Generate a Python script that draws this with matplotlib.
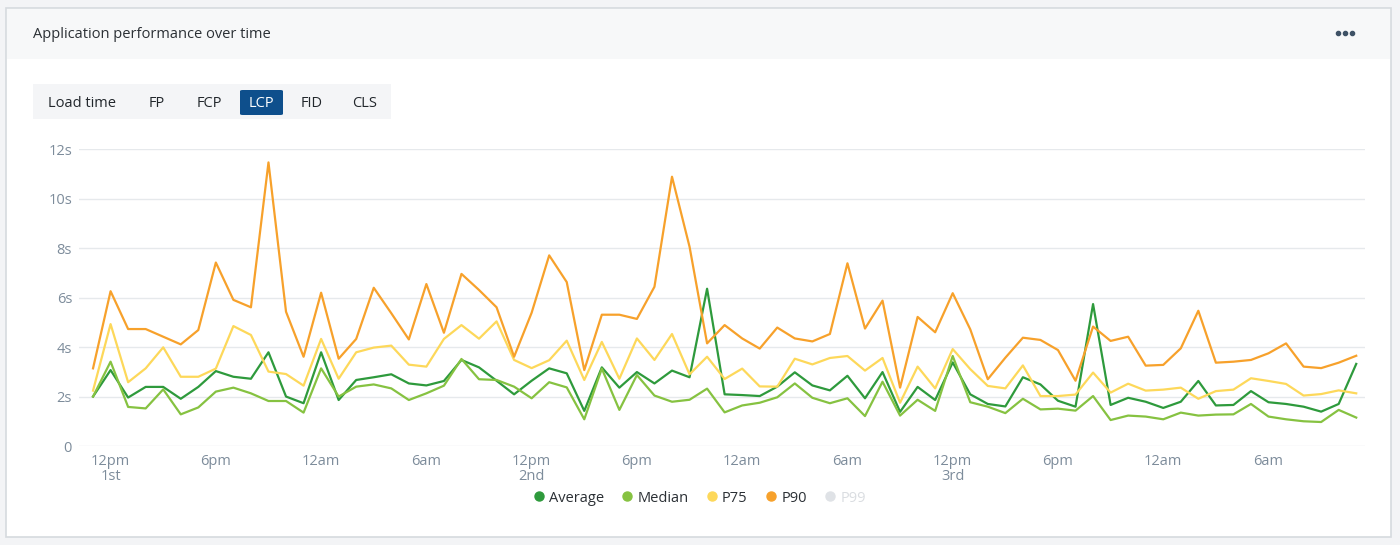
import matplotlib
matplotlib.use("Agg")
import matplotlib.pyplot as plt
from matplotlib.patches import Rectangle, FancyBboxPatch
from matplotlib.lines import Line2D

plt.rcParams['font.family'] = ['Open Sans', 'DejaVu Sans']

# hourly samples, 11am on the 1st through 11am on the 4th (hours since 12am 1st)
hours = list(range(11, 84))

average = [2.00, 3.07, 1.96, 2.39, 2.39, 1.91, 2.39, 3.03, 2.80, 2.72, 3.79, 2.00, 1.73, 3.79,
           1.86, 2.67, 2.78, 2.90, 2.53, 2.45, 2.63, 3.48, 3.18, 2.64, 2.09, 2.64, 3.14, 2.94,
           1.42, 3.18, 2.36, 2.99, 2.53, 3.05, 2.78, 6.36, 2.09, 2.06, 2.02, 2.40, 2.98, 2.45,
           2.25, 2.84, 1.93, 2.99, 1.38, 2.39, 1.86, 3.38, 2.09, 1.70, 1.60, 2.78, 2.49, 1.83,
           1.59, 5.74, 1.66, 1.95, 1.79, 1.54, 1.79, 2.63, 1.64, 1.66, 2.22, 1.77, 1.70, 1.59,
           1.39, 1.70, 3.32]
median = [2.00, 3.41, 1.58, 1.52, 2.29, 1.28, 1.56, 2.20, 2.36, 2.13, 1.82, 1.82, 1.35, 3.14,
          2.00, 2.40, 2.49, 2.33, 1.86, 2.13, 2.44, 3.52, 2.70, 2.67, 2.40, 1.93, 2.58, 2.37,
          1.08, 3.13, 1.46, 2.87, 2.04, 1.79, 1.87, 2.32, 1.36, 1.64, 1.75, 1.97, 2.53, 1.95,
          1.73, 1.93, 1.21, 2.60, 1.23, 1.87, 1.42, 3.64, 1.77, 1.59, 1.33, 1.91, 1.48, 1.51,
          1.43, 2.02, 1.05, 1.23, 1.19, 1.08, 1.35, 1.23, 1.27, 1.28, 1.70, 1.19, 1.08, 1.00,
          0.97, 1.46, 1.15]
p75 = [2.24, 4.93, 2.58, 3.14, 3.99, 2.80, 2.80, 3.13, 4.85, 4.49, 3.01, 2.91, 2.44, 4.33,
       2.72, 3.79, 3.98, 4.06, 3.29, 3.21, 4.33, 4.89, 4.34, 5.04, 3.48, 3.15, 3.47, 4.26,
       2.67, 4.21, 2.72, 4.35, 3.48, 4.53, 2.90, 3.61, 2.71, 3.13, 2.41, 2.40, 3.53, 3.30,
       3.56, 3.64, 3.05, 3.56, 1.75, 3.21, 2.33, 3.92, 3.11, 2.43, 2.33, 3.26, 2.02, 2.02,
       2.08, 2.97, 2.16, 2.52, 2.24, 2.28, 2.36, 1.91, 2.22, 2.28, 2.74, 2.63, 2.51, 2.04,
       2.10, 2.25, 2.13]
p90 = [3.14, 6.26, 4.73, 4.73, 4.42, 4.11, 4.69, 7.42, 5.91, 5.61, 11.47, 5.43, 3.61, 6.20,
       3.53, 4.33, 6.40, 5.37, 4.31, 6.55, 4.58, 6.96, 6.31, 5.61, 3.61, 5.39, 7.71, 6.63,
       3.07, 5.31, 5.31, 5.14, 6.44, 10.89, 8.06, 4.15, 4.89, 4.35, 3.94, 4.79, 4.35, 4.23,
       4.53, 7.39, 4.75, 5.88, 2.36, 5.22, 4.60, 6.18, 4.72, 2.70, 3.57, 4.38, 4.29, 3.88,
       2.64, 4.83, 4.25, 4.42, 3.25, 3.28, 3.95, 5.47, 3.37, 3.41, 3.48, 3.75, 4.15, 3.21,
       3.15, 3.37, 3.65]

series_names = ['Average', 'Median', 'P75', 'P90', 'P99']
series_colors = ['#2e9a3c', '#86c241', '#fdd85a', '#f7a12b', '#dfe2e6']

tick_hours = [12, 18, 24, 30, 36, 42, 48, 54, 60, 66, 72, 78]
tick_labels = ['12pm\n1st', '6pm', '12am', '6am', '12pm\n2nd', '6pm', '12am', '6am',
               '12pm\n3rd', '6pm', '12am', '6am']
y_ticks = [0, 2, 4, 6, 8, 10, 12]
y_labels = ['0', '2s', '4s', '6s', '8s', '10s', '12s']

tabs = ['Load time', 'FP', 'FCP', 'LCP', 'FID', 'CLS']
tab_centers = [82, 157, 209, 261, 312, 365]
active_tab = 'LCP'

W, H = 1400, 545
fig = plt.figure(figsize=(W / 100, H / 100), dpi=100)
fig.patch.set_facecolor('#f3f4f6')


def fx(x):
    return x / W


def fy(y):
    return 1 - y / H


# card + header band
fig.patches.append(Rectangle((fx(6), fy(537)), fx(1391) - fx(6), fy(8) - fy(537),
                             transform=fig.transFigure, facecolor='white',
                             edgecolor='#d6dade', linewidth=1.2, zorder=-3))
fig.patches.append(Rectangle((fx(7), fy(59)), fx(1390) - fx(7), fy(9) - fy(59),
                             transform=fig.transFigure, facecolor='#f7f8f9',
                             edgecolor='none', zorder=-2))
fig.text(fx(33), fy(34), 'Application performance over time', fontsize=10.5,
         color='#2b3035', va='center', ha='left')
fig.add_artist(Line2D([fx(1338), fx(1345), fx(1352)], [fy(33)] * 3, transform=fig.transFigure,
                      marker='o', markersize=3.0, linestyle='none',
                      markerfacecolor='#3e5266', markeredgecolor='#3e5266'))

# metric tabs
fig.patches.append(Rectangle((fx(33), fy(119)), fx(391) - fx(33), fy(84) - fy(119),
                             transform=fig.transFigure, facecolor='#f4f5f7',
                             edgecolor='none', zorder=-2))
for name, cx in zip(tabs, tab_centers):
    if name == active_tab:
        fig.patches.append(FancyBboxPatch((fx(240), fy(115)), fx(283) - fx(240),
                                          fy(90) - fy(115), boxstyle='round,pad=0,rounding_size=0.002',
                                          transform=fig.transFigure, facecolor='#0e4f8c',
                                          edgecolor='none', zorder=-1))
        fig.text(fx(cx), fy(103), name, fontsize=10.5, color='white', ha='center', va='center')
    else:
        fig.text(fx(cx), fy(103), name, fontsize=10.5, color='#22272c', ha='center', va='center')

# chart
ax = fig.add_axes([fx(79), fy(446), fx(1365) - fx(79), fy(149.3) - fy(446)])
ax.set_zorder(1)
ax.set_facecolor('none')
for vals, name, color in zip([average, median, p75, p90], series_names, series_colors):
    ax.plot(hours, vals, color=color, linewidth=1.6, label=name, zorder=3)

ax.set_xlim(10.2, 83.5)
ax.set_ylim(0, 12)
ax.set_yticks(y_ticks)
ax.set_yticklabels(y_labels)
ax.set_xticks(tick_hours)
ax.set_xticklabels(tick_labels, linespacing=0.95)
ax.grid(axis='y', color='#e6e9ec', linewidth=1.0)
ax.grid(axis='x', visible=False)
for s in ax.spines.values():
    s.set_visible(False)
ax.tick_params(length=0, labelsize=10.5, labelcolor='#7d8c9b')
ax.tick_params(axis='y', pad=5)
ax.tick_params(axis='x', pad=6)

handles = [Line2D([], [], marker='o', linestyle='none', markersize=6.5,
                  markerfacecolor=c, markeredgecolor=c) for c in series_colors]
leg = fig.legend(handles, series_names, loc='center', bbox_to_anchor=(fx(700), fy(498)),
                 ncol=5, frameon=False, fontsize=10.5, handlelength=0.6,
                 handletextpad=0.4, columnspacing=1.3)
for txt, name in zip(leg.get_texts(), series_names):
    txt.set_color('#dadde1' if name == 'P99' else '#2b3035')

fig.savefig('out.png', dpi=100, facecolor=fig.get_facecolor())
